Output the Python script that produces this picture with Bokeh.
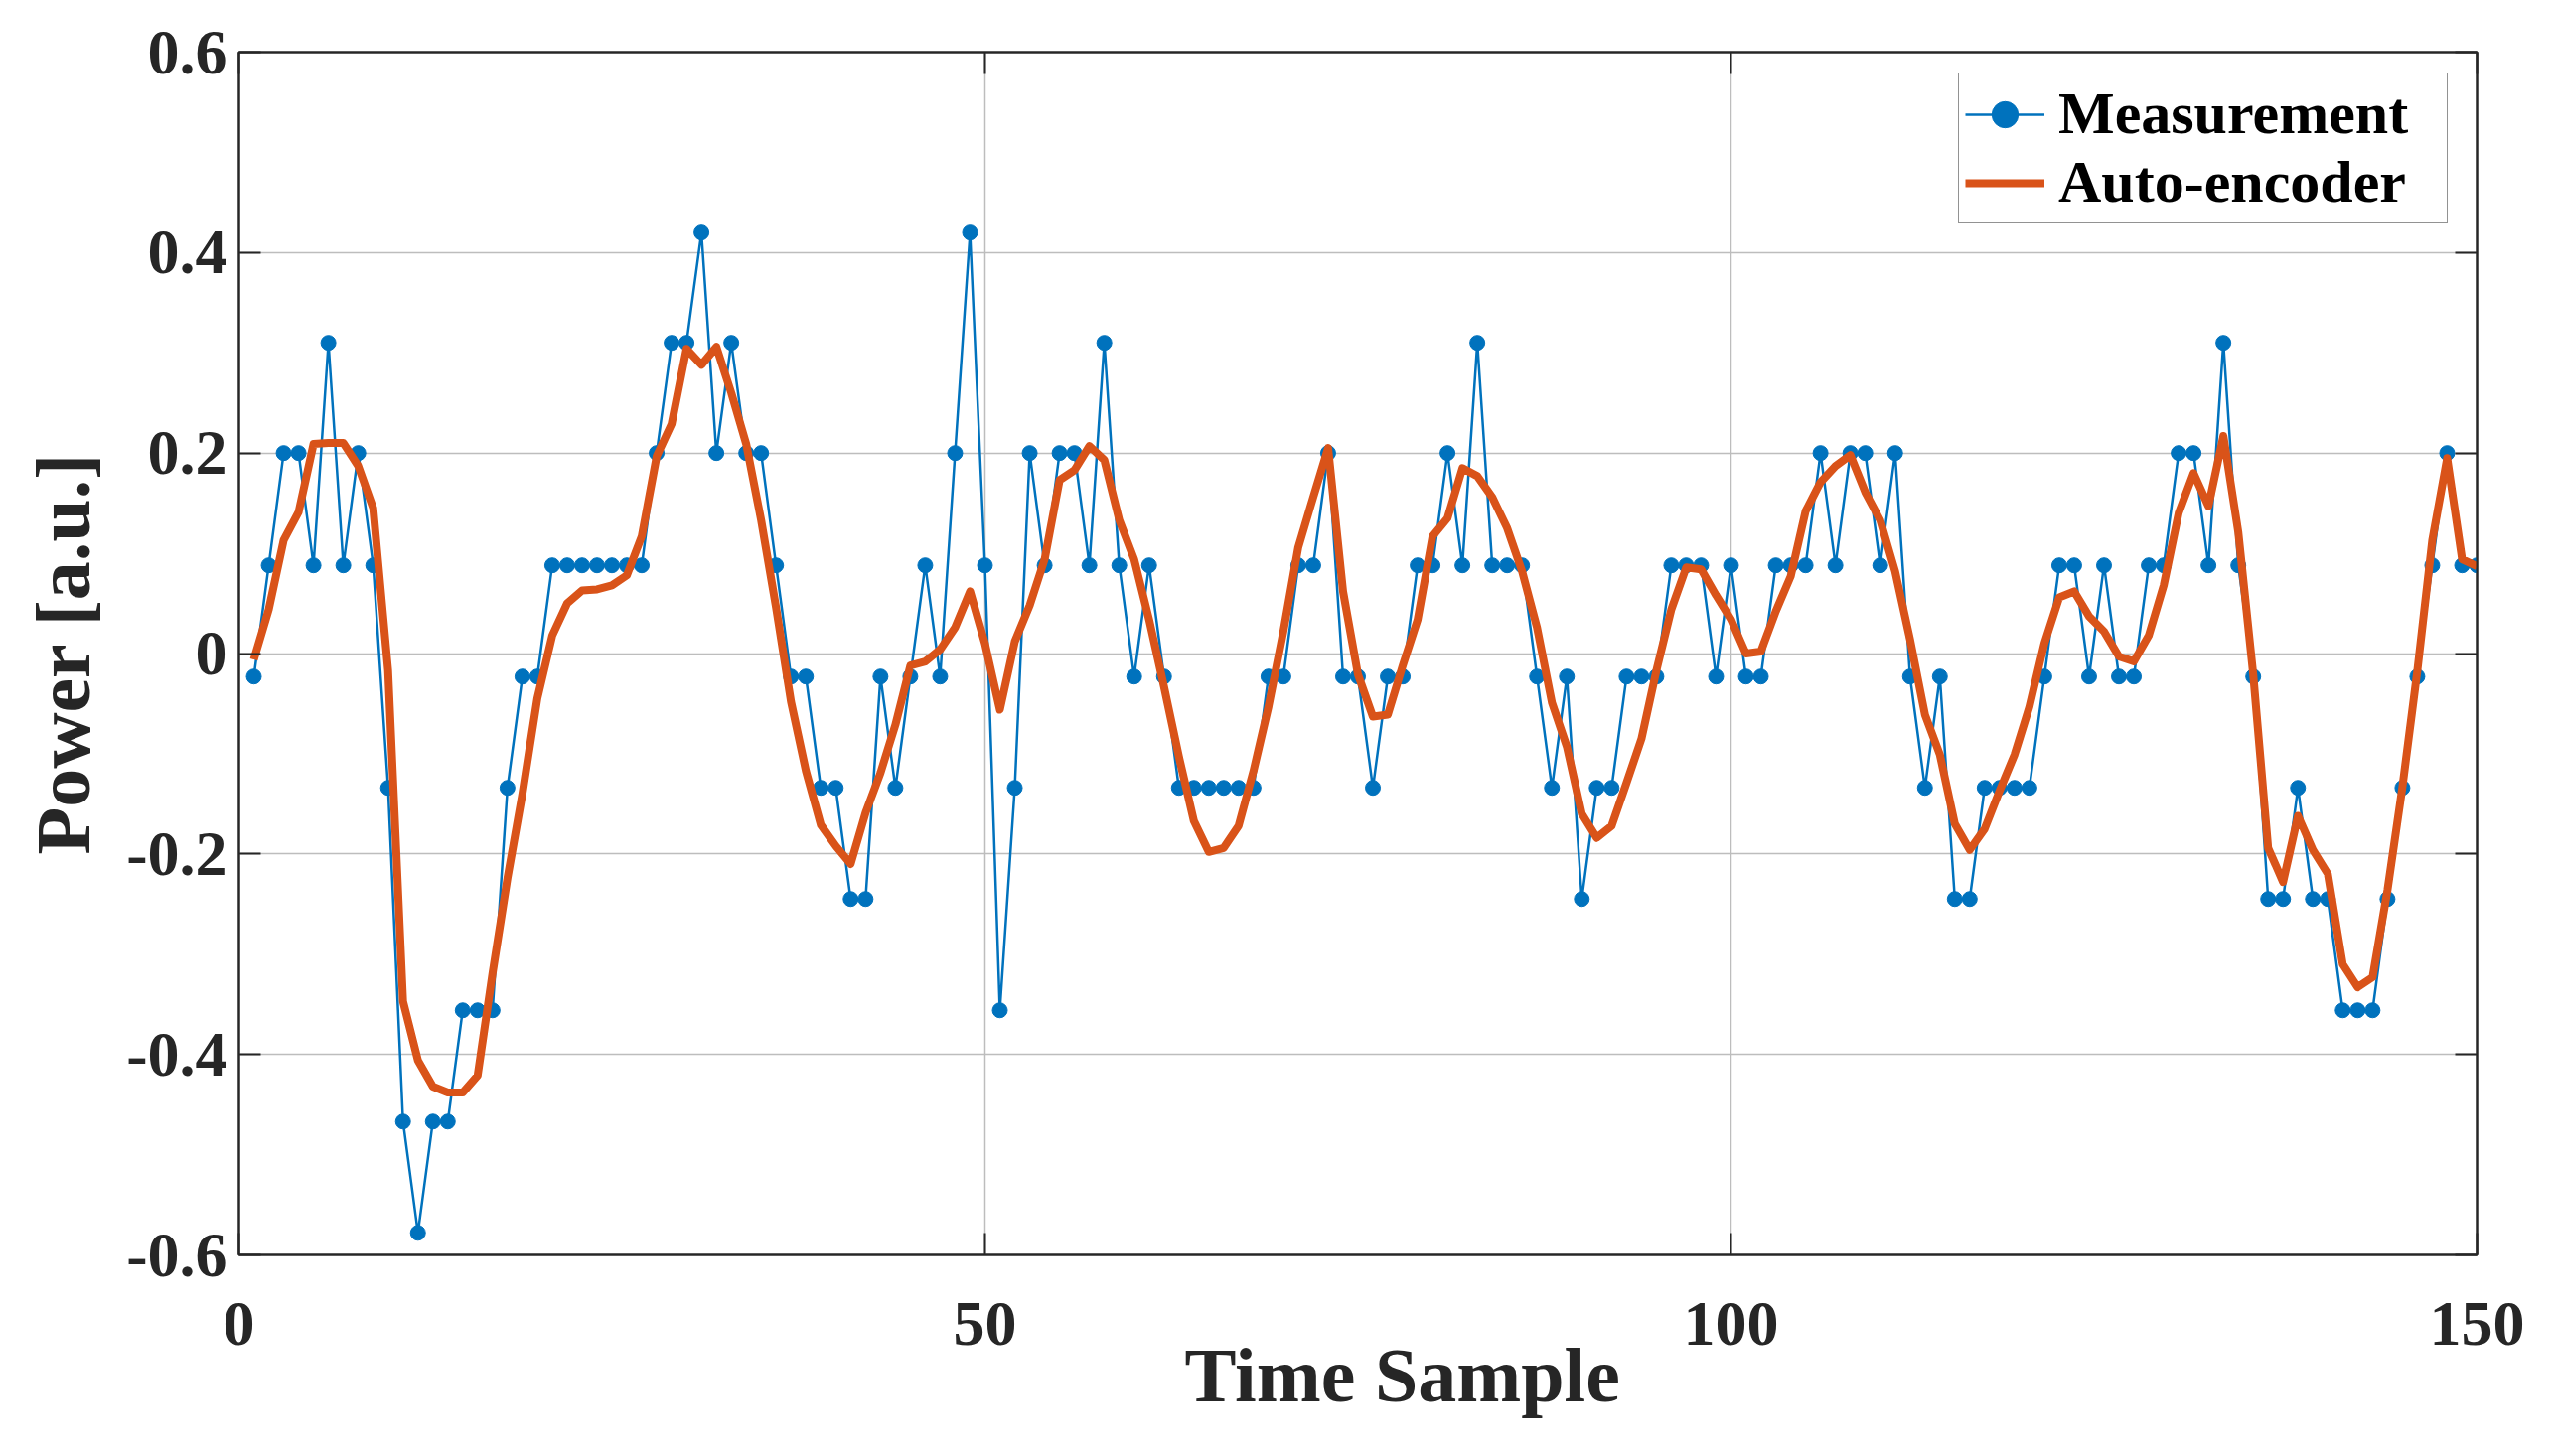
from bokeh.plotting import figure
from bokeh.models import FixedTicker, LinearAxis, Range1d, Title, CustomLabelingPolicy
from bokeh.embed import file_html
from bokeh.resources import INLINE

# ---- data ----
time_sample = list(range(1, 151))

measurement = [
    -0.023, 0.088, 0.2, 0.2, 0.088, 0.31, 0.088, 0.2, 0.088, -0.134,
    -0.467, -0.578, -0.467, -0.467, -0.356, -0.356, -0.356, -0.134, -0.023, -0.023,
    0.088, 0.088, 0.088, 0.088, 0.088, 0.088, 0.088, 0.2, 0.31, 0.31,
    0.42, 0.2, 0.31, 0.2, 0.2, 0.088, -0.023, -0.023, -0.134, -0.134,
    -0.245, -0.245, -0.023, -0.134, -0.023, 0.088, -0.023, 0.2, 0.42, 0.088,
    -0.356, -0.134, 0.2, 0.088, 0.2, 0.2, 0.088, 0.31, 0.088, -0.023,
    0.088, -0.023, -0.134, -0.134, -0.134, -0.134, -0.134, -0.134, -0.023, -0.023,
    0.088, 0.088, 0.2, -0.023, -0.023, -0.134, -0.023, -0.023, 0.088, 0.088,
    0.2, 0.088, 0.31, 0.088, 0.088, 0.088, -0.023, -0.134, -0.023, -0.245,
    -0.134, -0.134, -0.023, -0.023, -0.023, 0.088, 0.088, 0.088, -0.023, 0.088,
    -0.023, -0.023, 0.088, 0.088, 0.088, 0.2, 0.088, 0.2, 0.2, 0.088,
    0.2, -0.023, -0.134, -0.023, -0.245, -0.245, -0.134, -0.134, -0.134, -0.134,
    -0.023, 0.088, 0.088, -0.023, 0.088, -0.023, -0.023, 0.088, 0.088, 0.2,
    0.2, 0.088, 0.31, 0.088, -0.023, -0.245, -0.245, -0.134, -0.245, -0.245,
    -0.356, -0.356, -0.356, -0.245, -0.134, -0.023, 0.088, 0.2, 0.088, 0.088,
]

auto_encoder = [
    -0.006, 0.044, 0.113, 0.141, 0.209, 0.21, 0.21, 0.187, 0.145, -0.017,
    -0.347, -0.406, -0.432, -0.438, -0.438, -0.421, -0.319, -0.224, -0.14, -0.045,
    0.018, 0.05, 0.063, 0.064, 0.068, 0.078, 0.117, 0.197, 0.229, 0.304,
    0.288, 0.306, 0.26, 0.209, 0.133, 0.046, -0.048, -0.117, -0.171, -0.192,
    -0.21, -0.159, -0.119, -0.071, -0.012, -0.008, 0.004, 0.026, 0.062, 0.01,
    -0.056, 0.012, 0.048, 0.094, 0.173, 0.183, 0.207, 0.193, 0.133, 0.094,
    0.034, -0.033, -0.103, -0.167, -0.198, -0.194, -0.172, -0.117, -0.053, 0.022,
    0.106, 0.156, 0.205, 0.062, -0.021, -0.063, -0.061, -0.012, 0.034, 0.117,
    0.135, 0.185, 0.177, 0.156, 0.125, 0.082, 0.026, -0.049, -0.093, -0.16,
    -0.184, -0.172, -0.129, -0.085, -0.017, 0.044, 0.086, 0.084, 0.058, 0.034,
    0.0, 0.002, 0.042, 0.077, 0.142, 0.171, 0.187, 0.198, 0.161, 0.133,
    0.082, 0.014, -0.061, -0.101, -0.17, -0.196, -0.175, -0.137, -0.101, -0.053,
    0.01, 0.056, 0.062, 0.037, 0.022, -0.003, -0.008, 0.018, 0.068, 0.14,
    0.18, 0.147, 0.217, 0.121, -0.021, -0.194, -0.228, -0.162, -0.196, -0.22,
    -0.31, -0.333, -0.323, -0.236, -0.133, -0.017, 0.113, 0.195, 0.094, 0.087,
]

x_ticks = [0, 50, 100, 150]
x_tick_labels = ["0", "50", "100", "150"]
y_ticks = [-0.6, -0.4, -0.2, 0, 0.2, 0.4, 0.6]
y_tick_labels = ["-0.6", "-0.4", "-0.2", "0", "0.2", "0.4", "0.6"]

series_names = ["Measurement", "Auto-encoder"]
series_colors = ["#0072BD", "#D95319"]
x_title = "Time Sample"
y_title = "Power [a.u.]"

# ---- styling ----
FONT = "Liberation Serif"
TXT = "#262626"

p = figure(
    width=2558, height=1450,
    output_backend="svg", toolbar_location=None,
    x_range=Range1d(0, 150), y_range=Range1d(-0.6, 0.6),
    min_border_left=240, min_border_right=65,
    min_border_top=52, min_border_bottom=187,
    background_fill_color="white", border_fill_color="white",
)

p.line(time_sample, measurement, line_color=series_colors[0], line_width=2.5,
       legend_label=series_names[0])
p.scatter(time_sample, measurement, size=15, fill_color=series_colors[0],
          line_color=series_colors[0], legend_label=series_names[0])
p.line(time_sample, auto_encoder, line_color=series_colors[1], line_width=8,
       line_join="round", legend_label=series_names[1])

xt = FixedTicker(ticks=x_ticks)
yt = FixedTicker(ticks=y_ticks)

p.xaxis.ticker = xt
p.yaxis.ticker = yt
p.xaxis.major_label_overrides = dict(zip(x_ticks, x_tick_labels))
p.yaxis.major_label_overrides = dict(zip(y_ticks, y_tick_labels))

for ax in (p.xaxis[0], p.yaxis[0]):
    ax.major_label_text_font = FONT
    ax.major_label_text_font_style = "bold"
    ax.major_label_text_font_size = "64px"
    ax.major_label_text_color = TXT
    ax.axis_label_text_font = FONT
    ax.axis_label_text_font_style = "bold"
    ax.axis_label_text_font_size = "78px"
    ax.axis_label_text_color = TXT
    ax.major_tick_in = 22
    ax.major_tick_out = 0
    ax.minor_tick_in = 0
    ax.minor_tick_out = 0
    ax.major_tick_line_color = TXT
    ax.major_tick_line_width = 2
    ax.axis_line_color = TXT
    ax.axis_line_width = 2

p.yaxis.axis_label = y_title
p.xaxis.major_label_standoff = 48
p.yaxis.major_label_standoff = 12
p.yaxis.axis_label_standoff = 17

# x-axis title, sitting a little right of centre as in the reference
p.add_layout(Title(text=x_title, align="left", offset=952, standoff=-35,
                   text_font=FONT, text_font_style="bold",
                   text_font_size="78px", text_color=TXT), "below")

# inner ticks on top and right (box), without any labels
no_labels = CustomLabelingPolicy(code="return []")


def box_axis(ticker):
    return LinearAxis(ticker=ticker, major_label_text_font_size="0px",
                      major_label_policy=no_labels,
                      major_tick_in=22, major_tick_out=0,
                      minor_tick_in=0, minor_tick_out=0,
                      major_tick_line_color=TXT, major_tick_line_width=2,
                      axis_line_color=TXT, axis_line_width=2,
                      major_label_standoff=0)


p.add_layout(box_axis(yt), "right")
p.add_layout(box_axis(xt), "above")

p.xgrid.ticker = xt
p.ygrid.ticker = yt
p.grid.grid_line_color = "#bdbdbd"
p.grid.grid_line_width = 1.5

p.outline_line_color = TXT
p.outline_line_width = 2

lg = p.legend[0]
lg.location = (1731, 1038)
lg.label_text_font = FONT
lg.label_text_font_style = "bold"
lg.label_text_font_size = "60px"
lg.label_text_color = "black"
lg.glyph_width = 80
lg.glyph_height = 66
lg.label_height = 66
lg.label_width = 385
lg.label_standoff = 14
lg.spacing = 0
lg.padding = 6
lg.margin = 0
lg.border_line_color = TXT
lg.border_line_width = 1.5
lg.background_fill_color = "white"
lg.background_fill_alpha = 1.0

open("out.html", "w").write(file_html(p, INLINE))
